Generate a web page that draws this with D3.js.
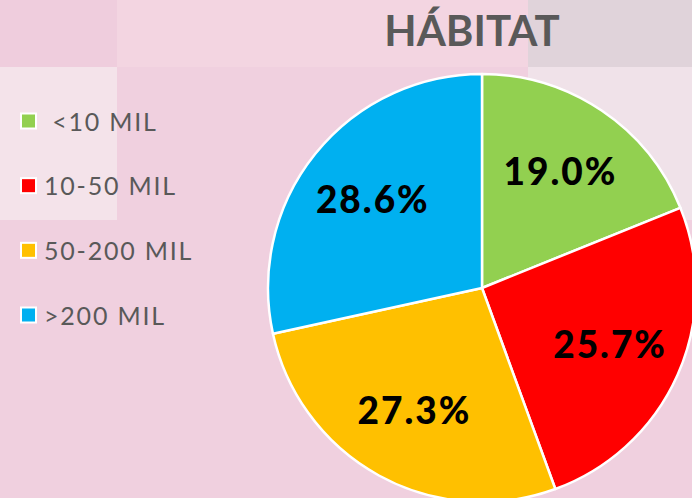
<!DOCTYPE html>
<html><head><meta charset="utf-8">
<script src="https://cdn.jsdelivr.net/npm/d3@7"></script>
<style>html,body{margin:0;padding:0;background:#f0d0df;}svg{display:block;}</style>
</head><body>
<svg id="c" width="692" height="498"></svg>
<script>
const title = "HÁBITAT";
const categories = [" <10 MIL", "10-50 MIL", "50-200 MIL", ">200 MIL"];
const values = [19.0, 25.7, 27.3, 28.6];
const valueLabels = ["19.0%", "25.7%", "27.3%", "28.6%"];
const colors = ["#92d050", "#ff0000", "#ffc000", "#00b0f0"];

const svg = d3.select("#c");
const W = 692, H = 498;

// background panels
const bg = [
  [0, 0, W, H, "#f0d0df"],
  [0, 0, 117, 67, "#efcddd"],
  [117, 0, 411, 67, "#f3d5e1"],
  [528, 0, 164, 67, "#e0d3da"],
  [0, 67, 117, 153, "#f4e3ea"],
  [528, 67, 164, 153, "#f0e2e9"]
];
svg.selectAll("rect.bg").data(bg).join("rect").attr("class","bg")
  .attr("x",d=>d[0]).attr("y",d=>d[1]).attr("width",d=>d[2]).attr("height",d=>d[3]).attr("fill",d=>d[4]);

// title
svg.append("text").attr("x", 472).attr("y", 46).attr("text-anchor","middle")
  .attr("font-family","Lato, sans-serif").attr("font-weight",700).attr("font-size",42)
  .attr("fill","#595959").text(title);

// pie
const cx = 482, cy = 288, r = 214;
const pie = d3.pie().sort(null).value(d=>d)(values);
const arc = d3.arc().innerRadius(0).outerRadius(r);
const g = svg.append("g").attr("transform",`translate(${cx},${cy})`);
g.selectAll("path").data(pie).join("path")
  .attr("d", arc).attr("fill",(d,i)=>colors[i])
  .attr("stroke","#fff").attr("stroke-width",2.5).attr("stroke-linejoin","round");

const labelPos = d3.arc().innerRadius(r*0.655).outerRadius(r*0.655);
g.selectAll("text").data(pie).join("text")
  .attr("transform", d=>`translate(${labelPos.centroid(d)})`)
  .attr("text-anchor","middle").attr("dy","0.36em")
  .attr("font-family","Lato, sans-serif").attr("font-weight",900).attr("font-size",37)
  .attr("letter-spacing",2)
  .attr("fill","#000").text((d,i)=>valueLabels[i]);

// legend
const ly = d3.scalePoint().domain(categories).range([121.5, 315.5]);
const lg = svg.append("g").selectAll("g").data(categories).join("g")
  .attr("transform", d=>`translate(0,${ly(d)})`);
lg.append("rect").attr("x",21).attr("y",-8).attr("width",15).attr("height",15)
  .attr("fill",(d,i)=>colors[i]).attr("stroke","#fff").attr("stroke-width",2);
lg.append("text").attr("x",44).attr("y",0).attr("dy","0.36em")
  .attr("xml:space","preserve").style("white-space","pre")
  .attr("font-family","Lato, sans-serif").attr("font-size",25).attr("letter-spacing",1.8)
  .attr("fill","#595959").text(d=>d);
</script>
</body></html>
